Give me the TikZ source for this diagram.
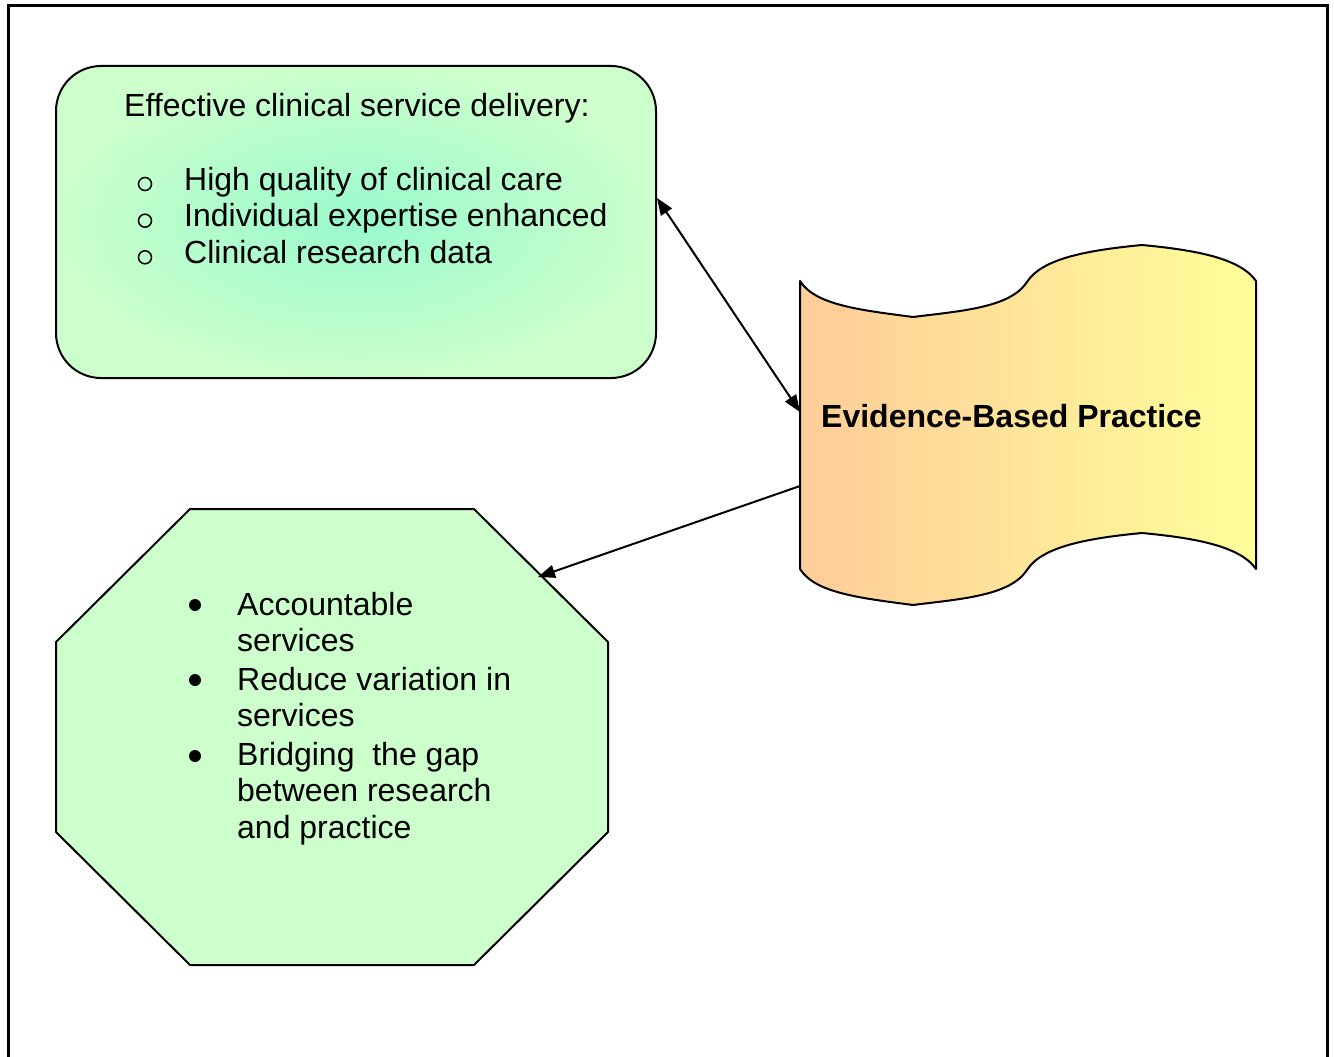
\documentclass[tikz,border=0pt]{standalone}
\usepackage{fontspec}
\setmainfont{Liberation Sans}
\usetikzlibrary{arrows.meta}

\definecolor{mint}{RGB}{204,255,204}
\definecolor{aqua}{RGB}{153,250,204}
\definecolor{evorange}{RGB}{255,204,153}
\definecolor{evyellow}{RGB}{255,255,153}

\tikzset{
  x=1pt, y=-1pt,
  frameline/.style={line width=3pt, black},
  shapeline/.style={line width=2pt, black, line join=round},
  txt/.style={inner sep=0pt, anchor=base west, font=\fontsize{32pt}{36.7pt}\selectfont},
  boldtxt/.style={txt, font=\fontsize{32pt}{36.7pt}\selectfont\bfseries},
  link/.style={line width=2pt, black},
  tip/.tip={Triangle[length=17pt,width=13pt]},
  hollowbullet/.style={draw=black, line width=1.5pt, fill=none},
  solidbullet/.style={fill=black}
}

\begin{document}
\begin{tikzpicture}
\useasboundingbox (0,0) rectangle (1334,1057);

% page frame, open at the bottom
\draw[frameline] (8.5,1057) -- (8.5,5.5) -- (1327,5.5) -- (1327,1057);

% rounded box with a soft radial glow
\node[draw, shapeline, rounded corners=45pt, minimum width=600pt, minimum height=312pt,
      inner color=aqua, outer color=mint] (box) at (356,222) {};

\node[txt] (t0) at (124,116.7) {Effective clinical service delivery:};
\node[txt] (t1) at (184,190) {High quality of clinical care};
\node[txt] (t2) at (184,226.7) {Individual expertise enhanced};
\node[txt] (t3) at (184,263.3) {Clinical research data};
\foreach \yy in {184,220.7,257.3}
  \draw[hollowbullet] (145,\yy) circle (6.5pt);

% wave banner: top edge left to right, bottom edge right to left
\path[draw, shapeline, left color=evorange, right color=evyellow]
  (800,281) .. controls (815,305) and (860,310) .. (913,317)
  .. controls (960,311) and (1010,308) .. (1027,282)
  .. controls (1042,258) and (1090,250) .. (1142,245)
  .. controls (1195,250) and (1240,258) .. (1256,281)
  -- (1256,569)
  .. controls (1240,546) and (1195,538) .. (1142,533)
  .. controls (1090,538) and (1042,546) .. (1027,570)
  .. controls (1010,596) and (960,599) .. (913,605)
  .. controls (860,598) and (815,593) .. (800,569) -- cycle;
\node[boldtxt] (ebp) at (821,427) {Evidence-Based Practice};
\coordinate (waveA) at (800,412);
\coordinate (waveB) at (800,486);

% octagon
\path[draw, shapeline, fill=mint]
  (190,509) -- (474,509) -- (608,642) -- (608,832) -- (474,965)
  -- (190,965) -- (56,832) -- (56,642) -- cycle;
\coordinate (octNE) at (538,577);

\node[txt] (o1) at (237,615) {Accountable};
\node[txt] (o2) at (237,651.7) {services};
\node[txt] (o3) at (237,690) {Reduce variation in};
\node[txt] (o4) at (237,726.7) {services};
\node[txt] (o5) at (237,765) {Bridging\ \ the gap};
\node[txt] (o6) at (237,801.7) {between research};
\node[txt] (o7) at (237,838.3) {and practice};
\foreach \yy in {605,680,756}
  \fill[solidbullet] (195,\yy) circle (6pt);

% connectors
\coordinate (boxR) at (657,198);
\draw[link, tip-tip] (boxR) -- (waveA);
\draw[link, -tip] (waveB) -- (octNE);
\end{tikzpicture}
\end{document}
